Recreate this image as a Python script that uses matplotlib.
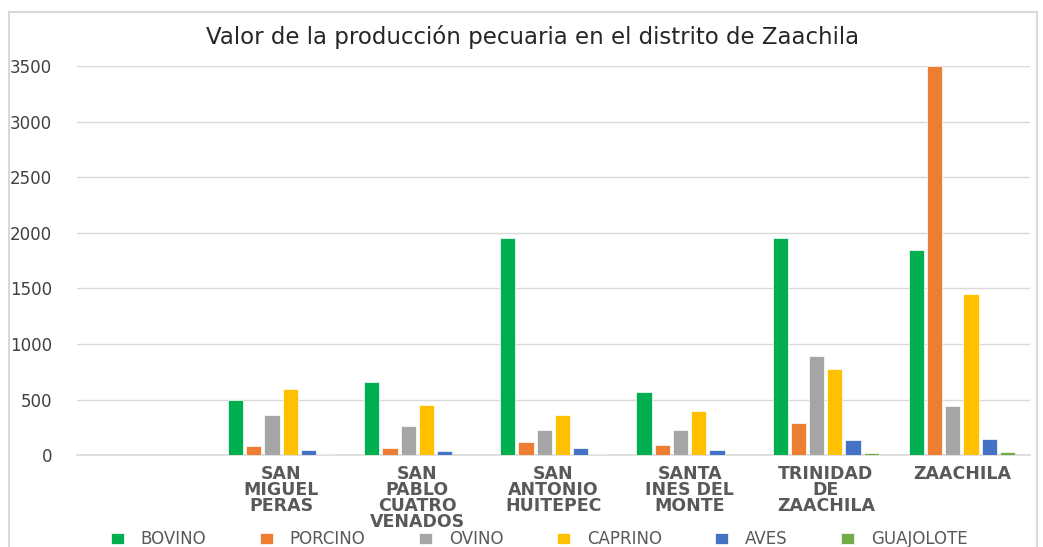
import numpy as np
import matplotlib.pyplot as plt
from matplotlib.patches import Rectangle

# data
municipios = ['', 'SAN\nMIGUEL\nPERAS', 'SAN\nPABLO\nCUATRO\nVENADOS', 'SAN\nANTONIO\nHUITEPEC',
              'SANTA\nINES DEL\nMONTE', 'TRINIDAD\nDE\nZAACHILA', 'ZAACHILA']
bovino = [0, 500, 657, 1952, 570, 1958, 1847]
porcino = [0, 84, 60, 117, 93, 288, 3500]
ovino = [0, 360, 261, 222, 228, 892, 441]
caprino = [0, 592, 450, 360, 396, 772, 1450]
aves = [0, 48, 33, 60, 48, 138, 144]
guajolote = [0, 9, 5, 6, 5, 18, 27]

series = ['BOVINO', 'PORCINO', 'OVINO', 'CAPRINO', 'AVES', 'GUAJOLOTE']
valores = [bovino, porcino, ovino, caprino, aves, guajolote]
colores = ['#00B050', '#ED7D31', '#A5A5A5', '#FFC000', '#4472C4', '#70AD47']

fig = plt.figure(figsize=(10.43, 5.47), dpi=100)
ax = fig.add_axes([0.0738, 0.168, 0.9137, 0.711])

x = np.arange(len(municipios))
paso = 0.134
ancho = 0.112
for i, (nombre, vals, col) in enumerate(zip(series, valores, colores)):
    ax.bar(x + (i - 2.5) * paso, vals, width=ancho, color=col, label=nombre,
           edgecolor='white', linewidth=0.5, zorder=3)

ax.set_xlim(-0.5, len(municipios) - 0.5)
ax.set_ylim(0, 3500)
ax.set_yticks(np.arange(0, 3501, 500))
ax.yaxis.grid(True, color='#D9D9D9', linewidth=1, zorder=0)
ax.tick_params(axis='y', length=0, labelsize=12, colors='#404040', pad=18)
for s in ['top', 'right', 'left']:
    ax.spines[s].set_visible(False)
ax.spines['bottom'].set_color('#D9D9D9')
ax.spines['bottom'].set_linewidth(1.2)

ax.set_xticks(x)
ax.set_xticklabels(municipios, fontsize=12.5, fontweight='bold', color='#595959',
                   va='top', linespacing=0.85)
ax.tick_params(axis='x', length=0, pad=7)

fig.suptitle('Valor de la producción pecuaria en el distrito de Zaachila',
             x=0.511, y=0.955, fontsize=16.5, color='#262626')

fig.legend(loc='lower center', bbox_to_anchor=(0.517, -0.03), ncol=6,
           frameon=False, fontsize=12, labelcolor='#595959',
           handlelength=0.8, handleheight=0.7, handletextpad=1.0,
           columnspacing=3.2)

# outer chart frame
fig.patches.append(Rectangle((0.009, -0.02), 0.985, 0.998, transform=fig.transFigure,
                             fill=False, edgecolor='#D9D9D9', linewidth=1.5))

fig.savefig('out.png', dpi=100)
